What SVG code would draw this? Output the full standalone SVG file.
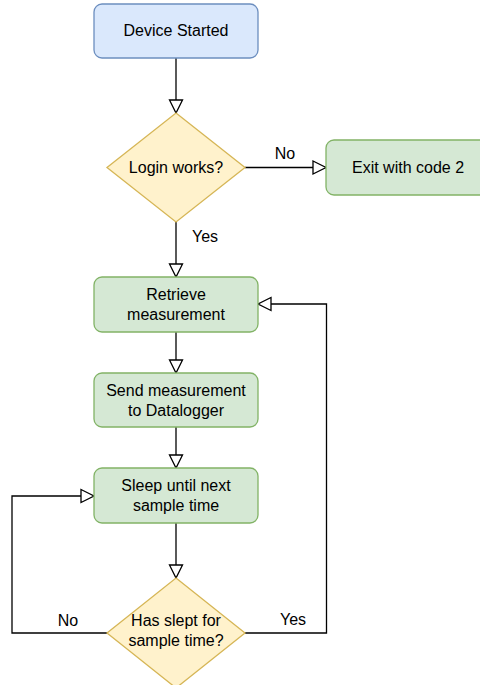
<svg xmlns="http://www.w3.org/2000/svg" width="480" height="685" viewBox="0 0 480 685">
  <defs>
    <marker id="open-arrow" markerUnits="userSpaceOnUse" markerWidth="16" markerHeight="16" refX="13" refY="6.5" orient="auto" overflow="visible">
      <path d="M0,0 L13,6.5 L0,13 Z" fill="#ffffff" stroke="#000000" stroke-width="1.3"/>
    </marker>
    <style>
      .start { fill: #dae8fc; stroke: #6c8ebf; stroke-width: 1.3; }
      .step { fill: #d5e8d4; stroke: #82b366; stroke-width: 1.3; }
      .decision { fill: #fff2cc; stroke: #d6b656; stroke-width: 1.3; }
      .edge { fill: none; stroke: #000000; stroke-width: 1.3; marker-end: url(#open-arrow); }
      text { font-family: "Liberation Sans", Arial, Helvetica, sans-serif; font-size: 16px; fill: #000000; text-anchor: middle; }
    </style>
  </defs>
  <rect width="480" height="685" fill="#ffffff"/>

  <g id="connectors">
    <path class="edge" d="M176,58 L176,113"/>
    <path class="edge" d="M245,167.5 L326,167.5"/>
    <path class="edge" d="M176,222 L176,277"/>
    <path class="edge" d="M176,332 L176,373"/>
    <path class="edge" d="M176,427 L176,468"/>
    <path class="edge" d="M176,523 L176,578"/>
    <path class="edge" d="M107,633 L12,633 L12,496 L94,496"/>
    <path class="edge" d="M245,633 L326.5,633 L326.5,304 L258,304"/>
    <text x="285" y="159">No</text>
    <text x="205" y="242">Yes</text>
    <text x="68" y="626">No</text>
    <text x="293" y="625">Yes</text>
  </g>

  <g id="device-started">
    <rect class="start" x="94" y="4" width="164" height="54" rx="8"/>
    <text x="176" y="36">Device Started</text>
  </g>

  <g id="login-works">
    <path class="decision" d="M176,113 L245,167.5 L176,222 L107,167.5 Z"/>
    <text x="176" y="173">Login works?</text>
  </g>

  <g id="exit-code-2">
    <rect class="step" x="326" y="140" width="164" height="55" rx="8"/>
    <text x="408" y="173">Exit with code 2</text>
  </g>

  <g id="retrieve-measurement">
    <rect class="step" x="94" y="277" width="164" height="55" rx="8"/>
    <text x="176" y="300">Retrieve</text>
    <text x="176" y="320">measurement</text>
  </g>

  <g id="send-measurement">
    <rect class="step" x="94" y="373" width="164" height="54" rx="8"/>
    <text x="176" y="396">Send measurement</text>
    <text x="176" y="416">to Datalogger</text>
  </g>

  <g id="sleep">
    <rect class="step" x="94" y="468" width="164" height="55" rx="8"/>
    <text x="176" y="491">Sleep until next</text>
    <text x="176" y="511">sample time</text>
  </g>

  <g id="has-slept">
    <path class="decision" d="M176,578 L245,633 L176,688 L107,633 Z"/>
    <text x="176" y="626">Has slept for</text>
    <text x="176" y="646">sample time?</text>
  </g>
</svg>
